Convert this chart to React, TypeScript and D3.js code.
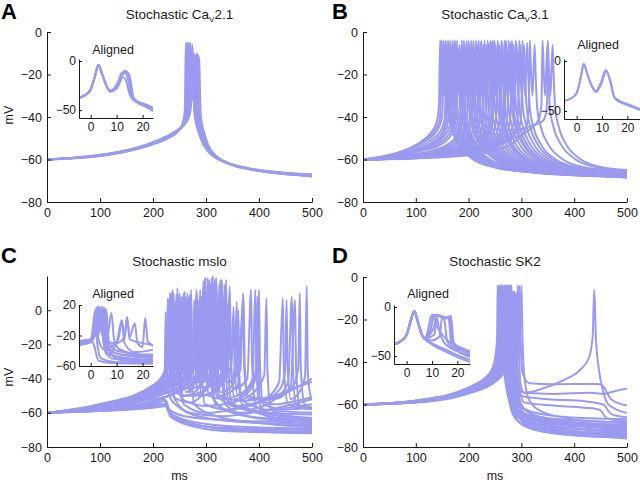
import React, { useEffect, useRef } from "react";
import * as d3 from "d3";

type Pt = [number, number];

// ticks
const msTicks = [0, 100, 200, 300, 400, 500];
const mvTicks = [0, -20, -40, -60, -80];
const alignedTicks = [0, 10, 20];
const insetMvTicks = [0, -50];
const insetMvTicksC = [20, -20, -60];

const panelLetters = ["A", "B", "C", "D"];
const titleA = ["Stochastic Ca", "V", "2.1"];
const titleB = ["Stochastic Ca", "V", "3.1"];
const titleC = ["Stochastic mslo"];
const titleD = ["Stochastic SK2"];

// panel A: Cav2.1, time (ms) / voltage (mV)
const tracesA: Pt[][] = [
  [[0,-60],[50,-59.4],[100,-58.2],[150,-56.2],[200,-52.8],[230,-49.8],[248,-46.5],[256,-43],[260,-37],[262,-5],[264,-16],[267,-32],[270,-20],[273,-11],[275,-13],[278,-38],[287,-48],[300,-55],[330,-60.5],[370,-63.6],[420,-65.5],[500,-67]],
  [[0,-60],[50,-59.3],[100,-58],[150,-55.9],[200,-52.3],[230,-49.2],[250,-45.8],[259,-42],[263,-36],[265,-5],[267,-16],[270,-32],[273,-20],[276,-10],[278,-12],[281,-38],[290,-48.5],[305,-55.5],[335,-61],[375,-64],[425,-66],[500,-67.4]],
  [[0,-60],[50,-59.2],[100,-57.8],[150,-55.6],[200,-51.8],[230,-48.5],[252,-44.8],[262,-41],[266,-35],[268,-5],[270,-16],[273,-32],[276,-20],[279,-11],[281,-13],[284,-38],[293,-49],[308,-56],[340,-61.5],[380,-64.3],[430,-66.2],[500,-67.6]],
  [[0,-60],[50,-59.3],[100,-58],[150,-55.8],[200,-52],[235,-48],[255,-44.5],[265,-40.5],[269,-35],[271,-6],[273,-16],[276,-32],[279,-20],[282,-10],[284,-12],[287,-38],[296,-49],[311,-56.5],[345,-62],[385,-64.7],[435,-66.5],[500,-67.8]],
  [[0,-60],[50,-59.4],[100,-58.3],[150,-56.2],[200,-52.5],[240,-47.8],[258,-44],[268,-40],[272,-34],[274,-6],[276,-16],[279,-32],[282,-20],[285,-11],[287,-13],[290,-39],[299,-49.5],[314,-57],[350,-62.5],[390,-65],[440,-66.6],[500,-68]],
  [[0,-60],[50,-59.3],[100,-58.1],[150,-56],[200,-52.6],[232,-49],[250,-46],[260,-42.5],[264,-36],[266,-5],[268,-16],[271,-32],[274,-20],[277,-14],[279,-16],[282,-40],[291,-50],[306,-56.5],[338,-61.5],[378,-64.2],[428,-66],[500,-67.3]],
  [[0,-60],[50,-59.2],[100,-57.9],[150,-55.7],[200,-52.1],[233,-48.6],[254,-44.6],[264,-40.8],[268,-35],[270,-5],[272,-16],[275,-32],[278,-20],[281,-12],[283,-14],[286,-39],[295,-49.5],[310,-56.5],[343,-62],[383,-64.6],[433,-66.4],[500,-67.9]],
  [[0,-60],[50,-59.35],[100,-58.1],[150,-56],[200,-52.6],[231,-49.2],[249,-46],[258,-42.5],[262,-36],[264,-5],[266,-16],[269,-32],[272,-20],[275,-12],[277,-14],[280,-39],[289,-49],[303,-55.5],[333,-61],[373,-63.8],[423,-65.8],[500,-67.2]],
];
const alignedA: Pt[][] = [
  [[-5,-38],[-2,-34.5],[0,-29],[1.5,-17],[3,-4],[4.5,-14],[6,-25],[7.5,-30.5],[9,-29],[10.5,-22],[12,-12],[13,-11.5],[14,-15],[15.5,-33],[17,-39.5],[20,-43],[24,-47.5]],
  [[-5,-38],[-2,-34.5],[0,-29],[1.5,-17],[3,-4],[4.5,-14],[6,-25],[7.5,-31],[9.5,-29],[11,-22],[12.5,-13],[13.8,-12],[14.8,-16],[16,-35],[17.5,-41],[20,-45],[24,-50]],
  [[-5,-38],[-2,-34.5],[0,-29],[1.5,-17],[3,-4],[4.5,-14],[6,-25],[7.5,-30],[9,-28],[10.5,-22],[11.5,-17],[12.5,-16.5],[13.5,-19],[15,-34],[16.5,-40],[20,-44],[24,-48.5]],
  [[-5,-38],[-2,-34.5],[0,-29],[1.5,-17],[3,-4],[4.5,-14],[6,-25],[7.5,-31],[10,-28],[11.5,-20],[13,-10],[14,-11],[15,-15],[16.5,-37],[18,-42],[21,-46],[24,-51]],
];

// panel B: Cav3.1
const tracesB: Pt[][] = [
  [[0,-60],[40,-58.5],[80,-55.5],[110,-51.5],[130,-47],[140,-42],[144,-34],[146,-4],[148,-17],[151,-30],[155,-6],[157,-20],[160,-36],[166,-44],[181,-53],[206,-59.5],[246,-63.5],[320,-66],[420,-67.3],[500,-68]],
  [[0,-60],[42,-58.4],[85,-55.3],[115,-51.2],[135,-46.8],[145,-41.5],[147,-34],[149,-4],[151,-17],[154,-30],[158,-6],[160,-20],[163,-36],[169,-44],[184,-53],[209,-59.5],[249,-63.5],[325,-66.2],[425,-67.6],[500,-68.1]],
  [[0,-60],[45,-58.3],[90,-55],[120,-51],[140,-46.5],[149,-41],[151,-34],[153,-4],[155,-17],[158,-30],[162,-6],[164,-20],[167,-36],[173,-44],[188,-53],[213,-59.5],[253,-63.5],[330,-66],[430,-67],[500,-67.5]],
  [[0,-60],[45,-58.6],[95,-55.4],[125,-51.5],[146,-47],[154,-42],[156,-34],[157,-4],[159,-17],[162,-30],[166,-5],[168,-20],[171,-36],[177,-44],[192,-53],[217,-59.5],[257,-63.5],[335,-66.4],[430,-67.8],[500,-68.4]],
  [[0,-60],[50,-58.8],[100,-55.5],[130,-52],[150,-47.5],[157,-42],[159,-34],[161,-4],[163,-17],[166,-30],[170,-6],[172,-20],[175,-36],[181,-44],[196,-53],[221,-59.5],[261,-63.5],[340,-66.2],[440,-67.5],[500,-68.2]],
  [[0,-60],[50,-58.9],[100,-55.8],[135,-52],[155,-47.2],[161,-42],[163,-34],[165,-4],[167,-17],[170,-30],[174,-5],[176,-20],[179,-36],[185,-44],[200,-53],[225,-59.5],[265,-63.5],[345,-66.4],[445,-67.7],[500,-68.3]],
  [[0,-60],[50,-59],[100,-56],[140,-52],[160,-47],[166,-42],[168,-34],[170,-4],[172,-17],[175,-30],[179,-6],[181,-20],[184,-36],[190,-44],[205,-53],[230,-59.5],[270,-63.5],[350,-66],[450,-67],[500,-67.4]],
  [[0,-60],[55,-58.9],[105,-56],[145,-52.2],[164,-47.6],[170,-42],[172,-34],[174,-4],[176,-17],[179,-30],[183,-6],[185,-20],[188,-36],[194,-44],[209,-53],[234,-59.5],[274,-63.5],[355,-66.1],[450,-67.3],[500,-67.8]],
  [[0,-60],[60,-58.8],[110,-56],[150,-52.5],[168,-48],[174,-42],[176,-34],[178,-4],[180,-17],[183,-30],[187,-6],[189,-20],[192,-36],[198,-44],[213,-53],[238,-59.5],[278,-63.5],[360,-66.3],[450,-67.6],[500,-68.3]],
  [[0,-60],[60,-59],[120,-56.5],[160,-53],[178,-48.5],[183,-43],[185,-34],[187,-4],[189,-17],[192,-30],[196,-5],[198,-20],[201,-36],[207,-44],[222,-53],[247,-59.5],[287,-63.5],[370,-66],[460,-67.2],[500,-67.6]],
  [[0,-60],[65,-59],[125,-56.6],[165,-53.2],[182,-48.6],[187,-43],[189,-34],[191,-4],[193,-17],[196,-30],[200,-6],[202,-20],[205,-36],[211,-44],[226,-53],[251,-59.5],[291,-63.5],[375,-66.5],[460,-67.9],[500,-68.5]],
  [[0,-60],[70,-59],[130,-56.8],[170,-53.5],[187,-49],[192,-43],[194,-34],[196,-4],[198,-17],[201,-30],[205,-5],[207,-20],[210,-36],[216,-44],[231,-53],[256,-59.5],[296,-63.5],[380,-66.4],[460,-67.6],[500,-68]],
  [[0,-60],[70,-59.1],[128,-56.9],[172,-53.8],[190,-49.3],[196,-43],[198,-34],[200,-4],[202,-17],[205,-30],[209,-6],[211,-20],[214,-36],[220,-44],[235,-53],[260,-59.5],[300,-63.5],[385,-66.3],[465,-67.6],[500,-68.1]],
  [[0,-60],[70,-59.2],[130,-57],[175,-54.5],[195,-50],[201,-43],[203,-34],[205,-4],[207,-17],[210,-30],[214,-6],[216,-20],[219,-36],[225,-44],[240,-53],[265,-59.5],[305,-63.5],[390,-66],[470,-67.2],[500,-67.5]],
  [[0,-60],[75,-59.2],[135,-57],[180,-54.2],[199,-49.5],[205,-43],[207,-34],[209,-4],[211,-17],[214,-30],[218,-5],[220,-20],[223,-36],[229,-44],[244,-53],[269,-59.5],[309,-63.5],[395,-66.5],[500,-68.2]],
  [[0,-60],[80,-59],[140,-57],[185,-54],[204,-49],[210,-43],[212,-34],[214,-4],[216,-17],[219,-30],[223,-5],[225,-20],[228,-36],[234,-44],[249,-53],[274,-59.5],[314,-63.5],[400,-66.2],[500,-68]],
  [[0,-60],[75,-59.1],[145,-56.8],[190,-53.8],[209,-48.8],[215,-43],[217,-34],[219,-4],[221,-17],[224,-30],[228,-6],[230,-20],[233,-36],[239,-44],[254,-53],[279,-59.5],[319,-63.5],[405,-66.6],[500,-68.4]],
  [[0,-60],[80,-59.2],[150,-57],[195,-54],[214,-49],[220,-43],[222,-34],[224,-4],[226,-17],[229,-30],[233,-6],[235,-20],[238,-36],[244,-44],[259,-53],[284,-59.5],[324,-63.5],[410,-66],[500,-67.3]],
  [[0,-60],[85,-59.1],[155,-57.2],[200,-54.2],[220,-49.2],[226,-43],[228,-34],[230,-4],[232,-17],[235,-30],[239,-5],[241,-20],[244,-36],[250,-44],[265,-53],[290,-59.5],[330,-63.5],[415,-66.5],[500,-67.8]],
  [[0,-60],[90,-59],[160,-57],[205,-54],[226,-49],[232,-43],[234,-34],[236,-4],[238,-17],[241,-30],[245,-5],[247,-20],[250,-36],[256,-44],[271,-53],[296,-59.5],[336,-63.5],[420,-66],[500,-67]],
  [[0,-60],[90,-59.3],[165,-57.2],[210,-54.4],[232,-49],[238,-43],[240,-34],[242,-4],[244,-17],[247,-30],[251,-6],[253,-20],[256,-36],[262,-44],[277,-53],[302,-59.5],[342,-63.5],[425,-66.3],[500,-67.6]],
  [[0,-60],[90,-59.1],[168,-57.1],[212,-54.3],[235,-49],[242,-43],[244,-34],[246,-4],[248,-17],[251,-30],[255,-5],[257,-20],[260,-36],[266,-44],[281,-53],[306,-59.5],[346,-63.5],[428,-66.1],[500,-67.1]],
  [[0,-60],[90,-59.2],[170,-57],[215,-54.5],[238,-49],[245,-43],[247,-34],[249,-4],[251,-17],[254,-30],[258,-6],[260,-20],[263,-36],[269,-44],[284,-53],[309,-59.5],[349,-63.5],[430,-66],[500,-67]],
  [[0,-60],[95,-59.1],[175,-57.1],[220,-54.4],[244,-49],[251,-43],[253,-34],[255,-4],[257,-17],[260,-30],[264,-5],[266,-20],[269,-36],[275,-44],[290,-53],[315,-59.5],[355,-63.5],[435,-66.2],[500,-67.2]],
  [[0,-60],[100,-59],[180,-57],[225,-54.5],[250,-49],[258,-43],[260,-34],[262,-4],[264,-17],[267,-30],[271,-5],[273,-20],[276,-36],[282,-44],[297,-53],[322,-59.5],[362,-63.5],[440,-65.8],[500,-66.5]],
  [[0,-60],[100,-59.2],[185,-57],[232,-54.2],[257,-48.8],[264,-43],[266,-34],[268,-4],[270,-17],[273,-30],[277,-6],[279,-20],[282,-36],[288,-44],[303,-53],[328,-59.5],[368,-63.5],[445,-66],[500,-66.8]],
  [[0,-60],[100,-59.2],[188,-57.1],[236,-54.1],[260,-48.6],[267,-43],[269,-34],[271,-4],[273,-17],[276,-30],[280,-5],[282,-20],[285,-36],[291,-44],[306,-53],[331,-59.5],[371,-63.5],[448,-65.9],[500,-66.6]],
  [[0,-60],[100,-59.3],[190,-57],[240,-54],[264,-48.5],[272,-43],[274,-34],[276,-4],[278,-17],[281,-30],[285,-6],[287,-20],[290,-36],[296,-44],[311,-53],[336,-59.5],[376,-63.5],[450,-65.7],[500,-66.2]],
  [[0,-60],[100,-59.1],[195,-57],[245,-53.8],[271,-48.2],[278,-43],[280,-34],[282,-4],[284,-17],[287,-30],[291,-5],[293,-20],[296,-36],[302,-44],[317,-53],[342,-59.5],[382,-63.5],[455,-66],[500,-66.6]],
  [[0,-60],[100,-59],[200,-57],[250,-53.5],[277,-48],[285,-43],[287,-34],[289,-4],[291,-17],[294,-30],[298,-6],[300,-20],[303,-36],[309,-44],[324,-53],[349,-59.5],[389,-63.5],[460,-65.5],[500,-66]],
  [[0,-60],[100,-59.2],[198,-57.2],[255,-53.4],[283,-48],[292,-43],[294,-34],[296,-4],[298,-17],[301,-30],[305,-6],[307,-20],[310,-36],[316,-44],[331,-53],[356,-59.5],[396,-63.5],[465,-65.6],[500,-66]],
  [[0,-60],[100,-59.3],[200,-57.5],[260,-53],[288,-48],[298,-43],[300,-34],[302,-4],[304,-17],[307,-30],[311,-5],[313,-20],[316,-36],[322,-44],[337,-53],[362,-59.5],[402,-63.5],[470,-65.3],[500,-65.8]],
  [[0,-60],[100,-59.5],[200,-58],[260,-55],[295,-50],[310,-44],[314,-34],[316,-4],[318,-17],[321,-30],[325,-6],[327,-20],[330,-36],[336,-44],[351,-53],[376,-59.5],[416,-63.5],[500,-65.8]],
  [[0,-60],[100,-59.2],[200,-57],[250,-54],[285,-50],[315,-46],[333,-41],[338,-34],[340,-4],[342,-17],[345,-30],[349,-6],[351,-20],[354,-36],[360,-44],[375,-53],[400,-59.5],[440,-63.5],[500,-65.5]],
  [[0,-60],[100,-59],[200,-56.5],[250,-52],[285,-47],[315,-44.5],[340,-42],[347,-38],[349,-30],[350,-4],[352,-17],[355,-30],[359,-6],[361,-20],[364,-36],[370,-44],[385,-53],[410,-59.5],[450,-63.5],[500,-65]],
];
const alignedB: Pt[][] = [
  [[-5,-40],[-2,-37],[0,-32],[1.5,-18],[2.8,-3],[4.3,-14],[6,-25],[7.5,-30.5],[9.5,-22],[11.5,-9],[13,-18],[14.8,-36],[17,-40],[21,-44],[25,-48]],
  [[-5,-40],[-2,-37],[0,-32],[1.5,-18],[2.8,-3],[4.3,-14],[6,-25],[7.7,-31],[9.7,-23],[11.7,-10],[13.2,-19],[15,-37],[17,-41],[21,-45],[25,-49]],
];

// panel C: mslo
const tracesC: Pt[][] = [
  [[0,-60],[100,-58],[200,-54],[222,-52],[226,-57],[240,-62],[270,-66],[320,-69],[400,-70.5],[500,-71]],
  [[0,-60],[100,-59],[200,-57],[225,-56],[230,-60],[260,-65],[300,-68],[350,-70],[500,-71.5]],
  [[0,-60],[100,-57],[200,-50],[218,-46],[222,-38],[224,-1],[226,-35],[230,-50],[250,-57],[300,-63],[400,-66],[500,-67]],
  [[0,-60],[100,-56],[200,-47],[225,-42],[232,-36],[235,10],[237,-30],[241,-48],[260,-50],[285,-46],[296,-38],[299,19],[301,-30],[305,-50],[330,-52],[370,-48],[388,-40],[393,12],[395,-30],[399,-52],[430,-55],[470,-53],[500,-51]],
  [[0,-60],[100,-55.5],[200,-46],[228,-40],[236,-35],[239,10],[241,-28],[243,-20],[245,8],[247,-30],[252,-50],[280,-50],[305,-45],[316,-36],[319,19],[321,-25],[324,-35],[328,-25],[330,16],[332,-30],[337,-52],[370,-57],[420,-60],[500,-61]],
  [[0,-60],[100,-57.5],[200,-51],[230,-45],[250,-40],[258,-33],[262,8],[264,-30],[268,-48],[275,-45],[282,-35],[285,6],[287,-32],[292,-50],[320,-47],[335,-38],[340,4],[342,-34],[348,-54],[400,-60],[500,-63]],
  [[0,-60],[100,-56],[200,-48],[235,-44],[260,-38],[265,-30],[268,8],[270,-30],[275,-42],[290,-38],[296,-30],[298,19],[300,-30],[305,-45],[316,-32],[320,17],[322,-30],[327,-48],[350,-44],[358,-34],[361,0],[363,-38],[368,-55],[420,-62],[500,-65]],
  [[0,-60],[100,-55],[200,-45],[225,-38],[229,-25],[232,10],[234,-30],[240,-40],[252,-30],[255,8],[257,-30],[262,-48],[280,-42],[288,-33],[290,6],[292,-35],[298,-55],[340,-58],[400,-54],[440,-46],[449,-36],[452,6],[454,-34],[460,-52],[478,-47],[487,-38],[490,14],[492,-35],[497,-50],[500,-52]],
  [[0,-60],[100,-57],[200,-52],[230,-50],[260,-46],[290,-40],[300,-30],[303,19],[305,-30],[310,-42],[322,-30],[325,15],[327,-30],[333,-42],[342,-30],[345,4],[347,-36],[355,-52],[380,-48],[395,-38],[400,12],[402,-34],[408,-55],[450,-58],[500,-57]],
  [[0,-60],[100,-58],[200,-53],[230,-50],[260,-44],[274,-36],[278,6],[280,-32],[286,-50],[310,-48],[330,-38],[335,15],[337,-30],[343,-55],[380,-58],[430,-52],[455,-42],[462,8],[464,-34],[470,-55],[500,-57]],
  [[0,-60],[100,-56],[200,-47],[232,-41],[243,-33],[246,13],[248,-30],[254,-52],[300,-56],[350,-54],[390,-48],[410,-38],[414,7],[416,-35],[422,-58],[460,-62],[500,-63]],
  [[0,-60],[100,-55.5],[200,-44],[222,-38],[226,-28],[228,7],[230,-30],[236,-50],[270,-54],[300,-46],[310,-35],[313,20],[315,-30],[320,-50],[360,-56],[410,-52],[438,-42],[445,7],[447,-35],[455,-55],[500,-58]],
  [[0,-60],[100,-58.5],[200,-55],[225,-53],[230,-58],[260,-62],[320,-64],[400,-65],[500,-66]],
  [[0,-60],[100,-56.5],[200,-49],[235,-44],[247,-36],[250,10],[252,-32],[258,-55],[300,-60],[400,-54],[460,-47],[500,-40]],
  [[0,-60],[100,-57],[200,-50],[240,-46],[270,-42],[288,-34],[292,8],[294,-28],[300,-38],[326,-30],[330,18],[332,-28],[340,-42],[365,-35],[370,10],[372,-33],[378,-50],[420,-52],[465,-44],[474,-34],[477,10],[479,-35],[486,-55],[500,-57]],
  [[0,-60],[100,-58],[200,-55],[226,-55],[232,-62],[270,-67],[350,-69],[500,-70]],
  [[0,-60],[100,-57],[200,-51],[240,-47],[280,-43],[300,-36],[304,17],[306,-25],[309,16],[311,-30],[318,-55],[360,-60],[430,-58],[500,-55]],
  [[0,-60],[100,-56],[200,-49],[250,-42],[278,-34],[283,10],[285,-30],[290,-45],[330,-42],[348,-32],[352,2],[354,-35],[360,-50],[385,-44],[394,-35],[397,8],[399,-36],[405,-60],[450,-66],[500,-68]],
  [[0,-60],[100,-56],[200,-47],[228,-42],[234,-34],[237,12],[239,-28],[244,-42],[254,-34],[258,10],[260,-30],[266,-46],[290,-44],[302,-34],[306,18],[308,-30],[314,-52],[350,-60],[420,-64],[500,-66]],
  [[0,-60],[100,-55.8],[200,-46],[230,-40],[238,-33],[242,5],[244,-30],[250,-44],[266,-38],[272,12],[274,-30],[280,-42],[292,-34],[296,15],[298,-28],[304,-42],[322,-34],[327,18],[329,-30],[336,-55],[380,-62],[450,-64],[500,-64.5]],
  [[0,-60],[100,-56.5],[200,-48],[235,-43],[248,-36],[253,8],[255,-30],[260,-38],[265,10],[267,-30],[272,-44],[285,-36],[289,12],[291,-30],[296,-42],[312,-34],[316,17],[318,-30],[324,-50],[370,-53],[430,-50],[480,-44],[500,-42]],
  [[0,-60],[100,-55],[200,-44],[220,-37],[226,-30],[229,6],[231,-30],[237,-45],[262,-38],[270,9],[272,-32],[278,-55],[320,-62],[400,-66],[500,-68.5]],
  [[0,-60],[100,-56.3],[200,-47.5],[232,-42],[240,-35],[244,9],[246,-28],[252,-42],[276,-36],[282,12],[284,-28],[290,-40],[306,-32],[311,19],[313,-28],[320,-40],[334,-32],[338,18],[340,-30],[346,-42],[354,-34],[358,5],[360,-34],[366,-52],[410,-58],[500,-60]],
  [[0,-60],[100,-57],[200,-49],[240,-43],[255,-36],[260,11],[262,-28],[268,-44],[290,-38],[295,17],[297,-28],[303,-44],[338,-36],[345,14],[347,-30],[353,-46],[378,-40],[385,12],[387,-32],[394,-56],[440,-62],[500,-64]],
  [[0,-60],[100,-58.3],[200,-55.5],[224,-55],[229,-59],[250,-63],[300,-66.5],[380,-68.3],[500,-69.2]],
  [[0,-60],[100,-58.8],[200,-56.5],[227,-56],[234,-61],[270,-67.5],[330,-70.5],[500,-72]],
  [[0,-60],[100,-55.7],[200,-45.5],[224,-39],[230,-30],[233,8],[235,-30],[241,-52],[270,-60],[330,-62],[420,-58],[500,-52]],
  [[0,-60],[100,-56.8],[200,-48.5],[236,-42],[245,-35],[249,9],[251,-30],[257,-50],[290,-48],[310,-38],[317,18],[319,-30],[326,-50],[360,-44],[371,8],[373,-32],[380,-52],[430,-52],[460,-44],[468,6],[470,-35],[477,-56],[500,-58]],
];
const alignedC: Pt[][] = [
  [[-5,-30],[0,-27],[1,-20],[2,15],[3,-20],[4,14],[5,-25],[7,-40],[12,-45],[25,-48]],
  [[-5,-33],[0,-28],[1.5,-18],[2.5,18],[3.5,-15],[5,12],[6,-30],[9,-42],[15,-47],[25,-50]],
  [[-5,-28],[0,-26],[2,-10],[3,17],[4,-10],[5,17],[6.5,-20],[8,10],[9,-25],[11,-38],[20,-45],[25,-45]],
  [[-5,-31],[0,-27],[1,-30],[3,-53],[8,-56],[25,-57]],
  [[-5,-29],[0,-26],[1.5,-5],[2,12],[3,-25],[5,-38],[10,-28],[12,0],[13,-25],[14,4],[15,-25],[20,-30],[25,-33]],
  [[-5,-32],[0,-28],[2.5,-5],[3.5,16],[4.5,-20],[6,-28],[10,-30],[13,-22],[14,4],[15,-22],[17,-4],[18,-30],[20,-35],[21,3],[22,-28],[25,-35]],
  [[-5,-30],[0,-27],[3,-5],[4,15],[5,-30],[7,-45],[15,-50],[25,-52]],
  [[-5,-29],[0,-26],[1,-5],[1.5,10],[2.5,-30],[4,-50],[10,-55],[25,-55]],
  [[-5,-27],[0,-25],[2,-5],[2.5,16],[3.3,-10],[4.2,18],[5,-15],[6,14],[7,-28],[10,-40],[25,-47]],
  [[-5,-31],[0,-28],[2.5,0],[3,18],[4,-5],[5.5,15],[6.5,-30],[8,-45],[15,-52],[25,-54]],
  [[-5,-30],[0,-27],[3,-6],[3.8,12],[5,-30],[6,-45],[9,-36],[11,-20],[12,0],[13,-30],[17,-42],[25,-38]],
  [[-5,-28],[0,-26],[1.2,-6],[1.8,14],[2.6,-8],[3.4,17],[4.4,-12],[5.2,16],[6.2,-25],[9,-48],[25,-53]],
  [[-5,-32],[0,-29],[2.2,-4],[2.8,15],[3.8,-14],[4.6,10],[5.6,-35],[8,-50],[25,-56]],
];

// panel D: SK2
const tracesD: Pt[][] = [
  [[0,-60],[100,-58.4],[200,-52.5],[230,-48],[245,-43],[251,-37],[254,-28],[255,-4],[257,-18],[259,-30],[262,-8],[268,-6],[270,-30],[274,-52],[280,-61],[295,-66],[340,-70],[420,-73],[500,-74.5]],
  [[0,-60],[100,-58.3],[200,-52.6],[234,-47.6],[248,-42.5],[254,-36],[256,-26],[257,-4],[259,-18],[261,-30],[264,-8],[270,-7],[272,-32],[276,-55],[283,-64],[300,-69],[360,-72.5],[440,-74.2],[500,-75]],
  [[0,-60],[100,-58.5],[200,-53],[235,-47.5],[249,-42],[255,-35],[257,-25],[258,-4],[260,-18],[262,-30],[265,-8],[271,-7],[273,-32],[277,-54],[284,-62],[300,-67],[350,-70],[430,-72],[500,-73]],
  [[0,-60],[100,-58.5],[200,-52.8],[236,-47.8],[250,-42.5],[256,-36],[258,-26],[259,-4],[261,-18],[263,-30],[266,-40],[270,-50],[276,-57],[290,-62.5],[330,-65.8],[420,-67.8],[500,-68.5]],
  [[0,-60],[100,-58.6],[200,-53.5],[238,-48],[252,-43],[258,-36],[260,-26],[261,-4],[263,-18],[265,-30],[268,-8],[274,-6],[276,-32],[280,-56],[288,-65],[305,-70],[360,-73.5],[440,-75],[500,-76]],
  [[0,-60],[100,-58.7],[200,-53.4],[238,-48],[253,-42.5],[259,-35],[261,-25],[262,-4],[264,-18],[266,-30],[269,-42],[273,-53],[279,-60],[292,-65.5],[330,-69],[410,-71.5],[500,-72.5]],
  [[0,-60],[100,-58.6],[200,-53.2],[238,-47.5],[254,-42],[260,-35],[262,-25],[263,-4],[265,-18],[267,-30],[270,-8],[276,-7],[278,-33],[282,-52],[289,-61],[305,-66],[360,-69.3],[430,-70.5],[500,-71.3]],
  [[0,-60],[100,-58.3],[200,-52.8],[240,-47],[255,-42],[261,-35],[263,-25],[264,-4],[266,-18],[268,-30],[271,-40],[275,-50],[280,-57],[292,-63],[330,-66.5],[410,-68.8],[500,-70]],
  [[0,-60],[100,-58.4],[200,-53],[240,-47],[256,-41.5],[262,-34.5],[264,-24],[265,-4],[267,-18],[269,-30],[272,-8],[278,-7],[280,-33],[284,-55],[291,-64],[308,-68.5],[365,-72],[440,-73],[500,-73.5]],
  [[0,-60],[100,-58.1],[200,-52],[240,-45.5],[256,-40],[263,-34],[266,-24],[267,-4],[269,-18],[271,-30],[274,-8],[279,-7],[281,-32],[285,-44],[291,-38],[294,-20],[296,-4],[298,-25],[302,-45],[315,-50],[360,-50.5],[445,-50.3],[455,-51.5],[470,-57.5],[500,-60.5]],
  [[0,-60],[100,-58.3],[200,-52.7],[241,-46.5],[258,-41],[265,-34],[267,-24],[268,-4],[270,-18],[272,-30],[275,-8],[281,-6],[283,-32],[287,-55],[294,-64],[310,-68.5],[370,-72],[440,-73.3],[500,-74]],
  [[0,-60],[100,-58.6],[200,-53.3],[242,-47.2],[259,-41.5],[266,-34.5],[268,-24],[269,-4],[271,-18],[273,-30],[276,-42],[280,-52],[286,-59],[298,-64.5],[340,-68],[420,-70.3],[500,-71]],
  [[0,-60],[100,-58.2],[200,-52.4],[242,-46],[259,-40],[266,-34],[269,-24],[270,-4],[272,-18],[274,-30],[277,-8],[282,-7],[284,-34],[288,-46],[291,-30],[293,-4],[295,-30],[298,-50],[305,-54.5],[340,-52.5],[380,-48.5],[410,-44],[428,-38],[435,-28],[438,-6],[441,-28],[447,-44],[455,-54],[465,-60],[500,-64]],
  [[0,-60],[100,-58.8],[200,-53.8],[243,-47.8],[261,-42],[268,-35.5],[270,-25],[271,-4],[273,-18],[275,-30],[278,-8],[284,-7],[286,-33],[290,-56],[297,-66],[315,-71],[380,-74],[450,-75.2],[500,-75.5]],
  [[0,-60],[100,-58.5],[200,-53.2],[244,-47],[262,-41],[268,-35],[271,-25],[272,-4],[274,-18],[276,-30],[279,-8],[284,-8],[286,-35],[292,-50],[305,-54.5],[360,-55],[430,-54.5],[455,-55],[480,-53.5],[500,-52.5]],
  [[0,-60],[100,-58.4],[200,-53],[244,-46.8],[263,-41],[270,-34.5],[272,-24],[273,-4],[275,-18],[277,-30],[280,-42],[284,-51],[290,-57.5],[304,-62],[350,-65],[430,-66.5],[500,-67]],
  [[0,-60],[100,-58.7],[200,-53.8],[245,-48],[264,-42],[270,-36],[273,-26],[274,-4],[276,-18],[278,-30],[281,-9],[286,-8],[288,-36],[293,-50],[300,-56],[350,-57.5],[420,-58.5],[455,-60],[470,-64.5],[500,-66]],
  [[0,-60],[100,-58.6],[200,-53.5],[246,-47.5],[265,-41.8],[272,-35.5],[274,-25],[275,-4],[277,-18],[279,-30],[282,-8],[287,-7],[289,-34],[293,-55],[300,-64],[320,-68.5],[390,-71],[460,-71.8],[500,-72]],
  [[0,-60],[100,-58.4],[200,-53],[246,-47],[265,-41],[272,-35],[275,-25],[276,-4],[278,-18],[280,-30],[283,-8],[288,-7],[290,-36],[296,-52],[305,-59],[360,-60.5],[420,-61.5],[448,-62.5],[462,-66.5],[500,-68]],
  [[0,-60],[100,-58.9],[200,-54.2],[247,-48.5],[266,-42.5],[273,-36],[276,-26],[277,-4],[279,-18],[281,-32],[285,-44],[289,-54],[296,-61],[315,-65.5],[380,-68.8],[450,-70],[500,-70.5]],
  [[0,-60],[100,-58.8],[200,-54],[248,-48.5],[267,-43],[274,-36],[277,-26],[278,-4],[280,-18],[282,-32],[286,-45],[290,-55],[298,-62],[320,-66.5],[380,-69.5],[450,-71],[500,-72]],
  [[0,-60],[100,-59],[200,-54.3],[249,-48.8],[268,-43.5],[275,-37],[278,-27],[279,-4],[281,-18],[283,-30],[286,-9],[290,-8],[292,-36],[296,-58],[303,-67],[325,-71.5],[390,-73.5],[460,-74],[500,-74]],
  [[0,-60],[100,-58.9],[200,-54.5],[250,-49],[269,-43],[276,-37],[279,-27],[280,-4],[282,-18],[284,-30],[287,-9],[291,-8],[293,-35],[296,-30],[299,-12],[300,-4],[302,-28],[306,-48],[315,-58],[340,-63.5],[400,-67],[460,-68.2],[500,-69]],
  [[0,-60],[100,-59.1],[200,-54.8],[251,-49.2],[270,-43.5],[277,-37.5],[280,-28],[281,-4],[283,-18],[285,-30],[288,-42],[292,-52],[298,-59],[315,-64],[370,-67.5],[440,-69],[500,-69.5]],
];
const alignedD: Pt[][] = [
  [[-5,-38],[-2,-34],[0,-28],[1.5,-15],[3,-4],[4.5,-16],[6,-28],[7,-32],[8,-28],[9.5,-10],[10,-8],[13,-9],[15,-12],[17,-10],[18,-30],[19,-38],[22,-42],[25,-45]],
  [[-5,-38],[-2,-34],[0,-28],[1.5,-15],[3,-4],[4.5,-16],[6,-28],[7,-32],[9,-25],[11,-9],[12,-8],[16,-11],[17.5,-9],[18.5,-36],[21,-42],[25,-47]],
  [[-5,-38],[-2,-34],[0,-28],[1.5,-15],[3,-4],[4.5,-16],[6,-28],[7,-32],[10,-25],[12.5,-9],[15,-12],[16.5,-10],[17.5,-35],[20,-44],[25,-49]],
  [[-5,-38],[-2,-34],[0,-28],[1.5,-15],[3,-4],[4.5,-16],[6,-28],[7,-32],[10,-34],[13,-30],[14,-10],[15,-15],[16,-35],[20,-45],[25,-50]],
  [[-5,-38],[-2,-34],[0,-28],[1.5,-15],[3,-4],[4.5,-16],[6,-28],[7,-32],[10,-37],[15,-43],[20,-49],[25,-54]],
  [[-5,-38],[-2,-34],[0,-28],[1.5,-15],[3,-4],[4.5,-16],[6,-28],[7,-32],[10,-38],[15,-45],[20,-51],[25,-56]],
  [[-5,-38],[-2,-34],[0,-28],[1.5,-15],[3,-4],[4.5,-16],[6,-28],[7,-32],[9,-27],[10.5,-10],[12,-20],[14,-28],[17,-36],[21,-43],[25,-48]],
  [[-5,-38],[-2,-34],[0,-28],[1.5,-15],[3,-4],[4.5,-16],[6,-28],[7,-32],[11,-28],[11.8,-10],[13,-25],[15,-37],[20,-45],[25,-51]],
  [[-5,-38],[-2,-34],[0,-28],[1.5,-15],[3,-4],[4.5,-16],[6,-28],[7,-32],[9.5,-22],[10.5,-9],[14,-10],[17,-12],[18,-34],[20,-42],[25,-46]],
];

const traceColor = "#9a9af0";
const inkColor = "#1a1a1a";
const font = "'Liberation Sans', Arial, Helvetica, sans-serif";

type Inset = {
  left: number; right: number; top: number; bottom: number;
  xDomain: [number, number]; yDomain: [number, number]; yTicks: number[];
  traces: Pt[][]; labelX: number; labelY: number;
};
type Panel = {
  id: string; letter: string; letterX: number; letterY: number;
  title: string[]; titleY: number;
  left: number; right: number; top: number; bottom: number;
  yDomain: [number, number];
  traces: Pt[][];
  mvLabel: boolean; msLabel: boolean;
  inset: Inset;
};

const panels: Panel[] = [
  { id: "a", letter: panelLetters[0], letterX: 1, letterY: 19, title: titleA, titleY: 19,
    left: 47, right: 312, top: 32, bottom: 202, yDomain: [-80, 0], traces: tracesA, mvLabel: true, msLabel: false,
    inset: { left: 79, right: 153, top: 59, bottom: 118, xDomain: [-4.5, 24], yDomain: [-58, 2], yTicks: insetMvTicks, traces: alignedA, labelX: 113, labelY: 54 } },
  { id: "b", letter: panelLetters[1], letterX: 332, letterY: 19, title: titleB, titleY: 19,
    left: 363, right: 627, top: 32, bottom: 202, yDomain: [-80, 0], traces: tracesB, mvLabel: false, msLabel: false,
    inset: { left: 564, right: 640, top: 59, bottom: 119, xDomain: [-5, 25], yDomain: [-58, 2], yTicks: insetMvTicks, traces: alignedB, labelX: 598, labelY: 49 } },
  { id: "c", letter: panelLetters[2], letterX: 1, letterY: 263, title: titleC, titleY: 266,
    left: 47, right: 312, top: 276, bottom: 447, yDomain: [-80, 20], traces: tracesC, mvLabel: true, msLabel: true,
    inset: { left: 79, right: 153, top: 305, bottom: 366, xDomain: [-4.5, 24], yDomain: [-60, 20], yTicks: insetMvTicksC, traces: alignedC, labelX: 113, labelY: 298 } },
  { id: "d", letter: panelLetters[3], letterX: 332, letterY: 263, title: titleD, titleY: 266,
    left: 363, right: 627, top: 277, bottom: 447, yDomain: [-80, 0], traces: tracesD, mvLabel: false, msLabel: true,
    inset: { left: 394, right: 470, top: 305, bottom: 364, xDomain: [-5, 25], yDomain: [-58, 2], yTicks: insetMvTicks, traces: alignedD, labelX: 428, labelY: 298 } },
];

const styleAxis = (g: any, size: number) => {
  g.attr("font-size", size).attr("font-family", font).attr("color", inkColor);
  g.select(".domain").attr("stroke-width", 1);
};

const drawPanel = (svg: any, p: Panel) => {
  const g = svg.append("g");
  const x = d3.scaleLinear().domain([0, 500]).range([p.left, p.right]);
  const y = d3.scaleLinear().domain(p.yDomain).range([p.bottom, p.top]);

  const defs = svg.append("defs");
  defs.append("clipPath").attr("id", `clip-${p.id}`).append("rect")
    .attr("x", p.left).attr("y", p.top - 1).attr("width", p.right - p.left).attr("height", p.bottom - p.top + 1);

  const line = d3.line<Pt>().x(d => x(d[0])).y(d => y(d[1])).curve(d3.curveMonotoneX);
  g.append("g").attr("clip-path", `url(#clip-${p.id})`)
    .selectAll("path").data(p.traces).join("path")
    .attr("d", line).attr("fill", "none").attr("stroke", traceColor)
    .attr("stroke-width", 2).attr("stroke-linejoin", "round");

  // axes, ticks pointing inward
  g.append("g").attr("transform", `translate(0,${p.bottom})`)
    .call(d3.axisBottom(x).tickValues(msTicks).tickSize(-4).tickSizeOuter(0).tickPadding(6))
    .call((a: any) => styleAxis(a, 12.5));
  g.append("g").attr("transform", `translate(${p.left},0)`)
    .call(d3.axisLeft(y).tickValues(mvTicks).tickSize(-4).tickSizeOuter(0).tickPadding(5))
    .call((a: any) => styleAxis(a, 12.5));

  // title with subscript
  const t = g.append("text").attr("x", (p.left + p.right) / 2).attr("y", p.titleY)
    .attr("text-anchor", "middle").attr("font-family", font).attr("font-size", 13.5).attr("fill", inkColor);
  t.append("tspan").text(p.title[0]);
  if (p.title.length > 1) {
    t.append("tspan").attr("font-size", 8).attr("dy", 3).text(p.title[1]);
    t.append("tspan").attr("dy", -3).text(p.title[2]);
  }

  g.append("text").attr("x", p.letterX).attr("y", p.letterY).attr("font-family", font)
    .attr("font-weight", "bold").attr("font-size", 22).attr("fill", "#000").text(p.letter);

  if (p.mvLabel) {
    const cy = p.id === "a" ? 115 : 377;
    g.append("text").attr("transform", `translate(13,${cy}) rotate(-90)`).attr("text-anchor", "middle")
      .attr("font-family", font).attr("font-size", 12.5).attr("fill", inkColor).text("mV");
  }
  if (p.msLabel) {
    g.append("text").attr("x", (p.left + p.right) / 2).attr("y", 480).attr("text-anchor", "middle")
      .attr("font-family", font).attr("font-size", 12.5).attr("fill", inkColor).text("ms");
  }

  // inset: aligned spikes
  const q = p.inset;
  const ix = d3.scaleLinear().domain(q.xDomain).range([q.left, q.right]);
  const iy = d3.scaleLinear().domain(q.yDomain).range([q.bottom, q.top]);
  const ig = svg.append("g");
  ig.append("rect").attr("x", q.left).attr("y", q.top).attr("width", q.right - q.left)
    .attr("height", q.bottom - q.top).attr("fill", "#fff");
  defs.append("clipPath").attr("id", `iclip-${p.id}`).append("rect")
    .attr("x", q.left).attr("y", q.top).attr("width", q.right - q.left).attr("height", q.bottom - q.top);
  const iline = d3.line<Pt>().x(d => ix(d[0])).y(d => iy(d[1])).curve(d3.curveMonotoneX);
  ig.append("g").attr("clip-path", `url(#iclip-${p.id})`)
    .selectAll("path").data(q.traces).join("path")
    .attr("d", iline).attr("fill", "none").attr("stroke", traceColor)
    .attr("stroke-width", 2).attr("stroke-linejoin", "round");
  ig.append("g").attr("transform", `translate(0,${q.bottom})`)
    .call(d3.axisBottom(ix).tickValues(alignedTicks).tickSize(-3).tickSizeOuter(0).tickPadding(4))
    .call((a: any) => styleAxis(a, 12));
  ig.append("g").attr("transform", `translate(${q.left},0)`)
    .call(d3.axisLeft(iy).tickValues(q.yTicks).tickSize(-3).tickSizeOuter(0).tickPadding(3))
    .call((a: any) => styleAxis(a, 12));
  ig.append("text").attr("x", q.labelX).attr("y", q.labelY).attr("text-anchor", "middle")
    .attr("font-family", font).attr("font-size", 12.5).attr("fill", inkColor).text("Aligned");
};

const App = () => {
  const svgRef = useRef<SVGSVGElement>(null);

  useEffect(() => {
    const svg = d3.select(svgRef.current);
    svg.selectAll("*").remove();
    panels.forEach(p => drawPanel(svg, p));
  }, []);

  return (
    <div style={{ position: "absolute", left: 0, top: 0 }}>
      <svg ref={svgRef} width={640} height={483} style={{ display: "block", background: "#fff" }} />
    </div>
  );
};

export default App;
